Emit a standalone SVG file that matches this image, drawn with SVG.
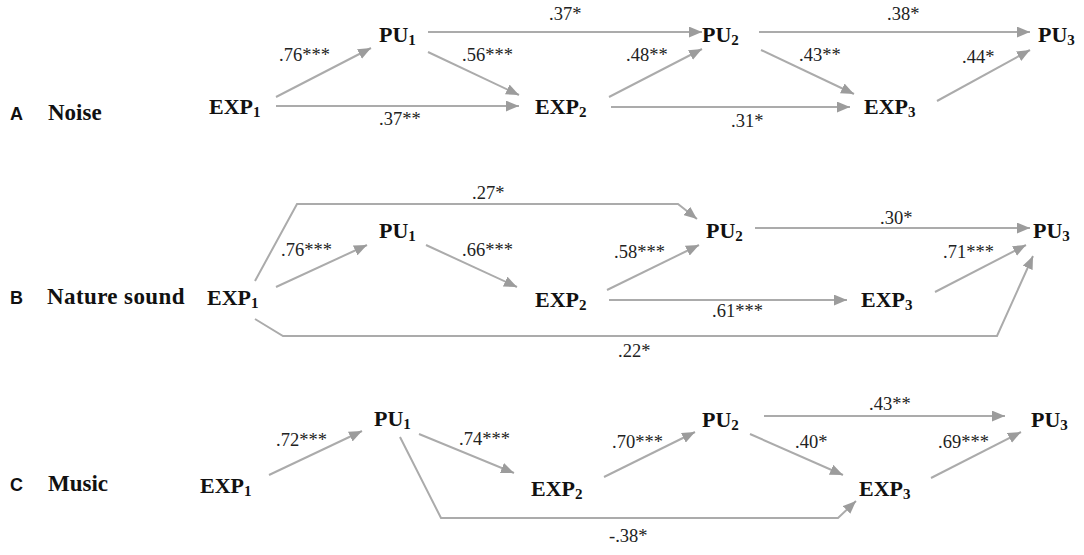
<svg xmlns="http://www.w3.org/2000/svg" width="1084" height="555" viewBox="0 0 1084 555">
<style>
.n{font-family:"Liberation Serif","Times New Roman",serif;font-weight:bold;font-size:22px;fill:#111}
.s{font-size:15px}
.p{font-family:"Liberation Serif","Times New Roman",serif;font-weight:bold;font-size:23px;fill:#111}
.l{font-family:"Liberation Sans",Arial,sans-serif;font-weight:bold;font-size:18px;fill:#111}
.e{font-family:"Liberation Serif","Times New Roman",serif;font-size:18.5px;fill:#222}
.c{fill:none;stroke:#ababab;stroke-width:2;marker-end:url(#ah)}
.c0{fill:none;stroke:#ababab;stroke-width:2}
</style>
<defs>
<marker id="ah" viewBox="0 0 12 10" refX="12" refY="5" markerWidth="13" markerHeight="11" orient="auto" markerUnits="userSpaceOnUse">
<path d="M0,0 L12,5 L0,10 Z" fill="#9c9c9c"/>
</marker>
</defs>
<rect width="1084" height="555" fill="#fff"/>

<g id="panel-labels">
<text class="l" x="10" y="120">A</text>
<text class="p" x="48" y="120">Noise</text>
<text class="l" x="10" y="304">B</text>
<text class="p" x="47" y="304" letter-spacing="0.4">Nature sound</text>
<text class="l" x="10" y="491">C</text>
<text class="p" x="48" y="491">Music</text>
</g>

<!-- Panel A nodes -->
<g id="A-EXP1"><text class="n" x="209" y="114">EXP<tspan class="s" dy="3">1</tspan></text></g>
<g id="A-PU1"><text class="n" x="379" y="42">PU<tspan class="s" dy="3">1</tspan></text></g>
<g id="A-EXP2"><text class="n" x="535" y="114">EXP<tspan class="s" dy="3">2</tspan></text></g>
<g id="A-PU2"><text class="n" x="702" y="42">PU<tspan class="s" dy="3">2</tspan></text></g>
<g id="A-EXP3"><text class="n" x="864" y="114">EXP<tspan class="s" dy="3">3</tspan></text></g>
<g id="A-PU3"><text class="n" x="1038" y="42">PU<tspan class="s" dy="3">3</tspan></text></g>

<!-- Panel B nodes -->
<g id="B-EXP1"><text class="n" x="207" y="305">EXP<tspan class="s" dy="3">1</tspan></text></g>
<g id="B-PU1"><text class="n" x="379" y="238">PU<tspan class="s" dy="3">1</tspan></text></g>
<g id="B-EXP2"><text class="n" x="535" y="307">EXP<tspan class="s" dy="3">2</tspan></text></g>
<g id="B-PU2"><text class="n" x="706" y="238">PU<tspan class="s" dy="3">2</tspan></text></g>
<g id="B-EXP3"><text class="n" x="861" y="307">EXP<tspan class="s" dy="3">3</tspan></text></g>
<g id="B-PU3"><text class="n" x="1033" y="238">PU<tspan class="s" dy="3">3</tspan></text></g>

<!-- Panel C nodes -->
<g id="C-EXP1"><text class="n" x="200" y="493">EXP<tspan class="s" dy="3">1</tspan></text></g>
<g id="C-PU1"><text class="n" x="374" y="426">PU<tspan class="s" dy="3">1</tspan></text></g>
<g id="C-EXP2"><text class="n" x="531" y="496">EXP<tspan class="s" dy="3">2</tspan></text></g>
<g id="C-PU2"><text class="n" x="702" y="427">PU<tspan class="s" dy="3">2</tspan></text></g>
<g id="C-EXP3"><text class="n" x="859" y="496">EXP<tspan class="s" dy="3">3</tspan></text></g>
<g id="C-PU3"><text class="n" x="1031" y="427">PU<tspan class="s" dy="3">3</tspan></text></g>

<g id="connectors">
<!-- A -->
<line class="c" x1="276" y1="97" x2="371" y2="48"/>
<line class="c" x1="428" y1="32" x2="702" y2="32"/>
<line class="c" x1="428" y1="52" x2="519" y2="95"/>
<line class="c" x1="276" y1="106" x2="519" y2="106"/>
<line class="c" x1="609" y1="97" x2="702" y2="49"/>
<line class="c" x1="759" y1="32" x2="1030" y2="32"/>
<line class="c" x1="761" y1="50" x2="854" y2="94"/>
<line class="c" x1="611" y1="107" x2="850" y2="107"/>
<line class="c" x1="937" y1="101" x2="1030" y2="50"/>
<text class="e" x="279" y="61">.76***</text>
<text class="e" x="549" y="20">.37*</text>
<text class="e" x="462" y="61">.56***</text>
<text class="e" x="379" y="125">.37**</text>
<text class="e" x="626" y="61">.48**</text>
<text class="e" x="887" y="20">.38*</text>
<text class="e" x="799" y="61">.43**</text>
<text class="e" x="731" y="127">.31*</text>
<text class="e" x="962" y="63">.44*</text>
<!-- B -->
<polyline class="c" points="255,281 297,204 678,204 697,219"/>
<line class="c" x1="276" y1="287" x2="367" y2="245"/>
<line class="c" x1="426" y1="245" x2="517" y2="287"/>
<line class="c" x1="607" y1="290" x2="699" y2="245"/>
<line class="c" x1="755" y1="228" x2="1030" y2="228"/>
<line class="c" x1="609" y1="300" x2="847" y2="300"/>
<line class="c" x1="935" y1="292" x2="1026" y2="245"/>
<polyline class="c" points="255,319 283,336 997,336 1033,256"/>
<text class="e" x="472" y="199">.27*</text>
<text class="e" x="281" y="256">.76***</text>
<text class="e" x="462" y="256">.66***</text>
<text class="e" x="614" y="258">.58***</text>
<text class="e" x="880" y="224">.30*</text>
<text class="e" x="943" y="258">.71***</text>
<text class="e" x="712" y="317">.61***</text>
<text class="e" x="618" y="357">.22*</text>
<!-- C -->
<line class="c" x1="269" y1="475" x2="362" y2="431"/>
<line class="c" x1="419" y1="434" x2="514" y2="473"/>
<line class="c" x1="604" y1="477" x2="695" y2="432"/>
<line class="c" x1="764" y1="416" x2="1005" y2="416"/>
<line class="c" x1="750" y1="434" x2="843" y2="475"/>
<line class="c" x1="931" y1="478" x2="1021" y2="432"/>
<polyline class="c" points="400,437 441,518 838,518 856,501"/>
<text class="e" x="276" y="446">.72***</text>
<text class="e" x="459" y="445">.74***</text>
<text class="e" x="612" y="448">.70***</text>
<text class="e" x="869" y="410">.43**</text>
<text class="e" x="795" y="448">.40*</text>
<text class="e" x="938" y="448">.69***</text>
<text class="e" x="609" y="542">-.38*</text>
</g>
</svg>
